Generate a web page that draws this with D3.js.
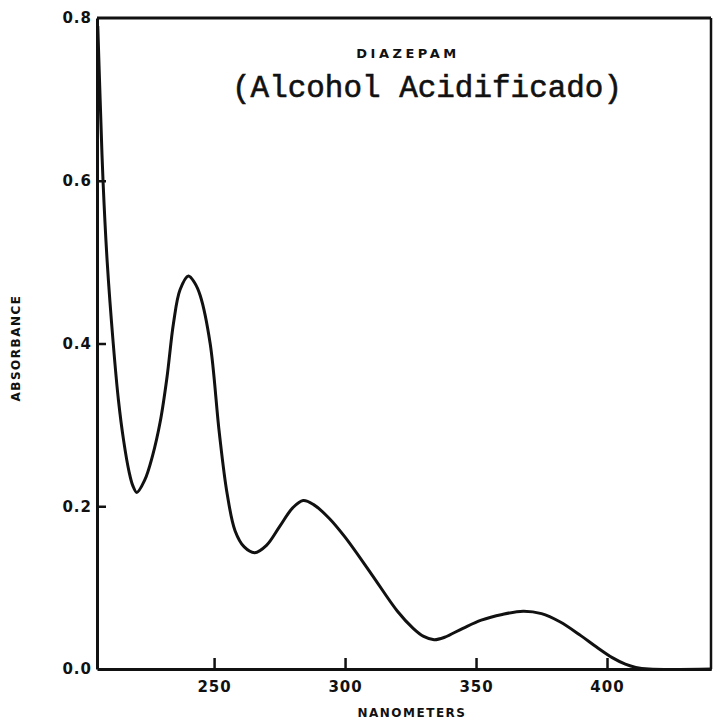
<!DOCTYPE html>
<html>
<head>
<meta charset="utf-8">
<script src="https://cdn.jsdelivr.net/npm/d3@7"></script>
<style>
  body { margin: 0; background: #fff; }
  .tick text { font-family: "DejaVu Sans", sans-serif; font-weight: bold; font-size: 15px; letter-spacing: 1px; fill: #111; }
</style>
</head>
<body>
<div id="chart"></div>
<script>
// spectrum (wavelength nm / absorbance)
var wavelength = [205.6, 206.5, 207.6, 209.2, 211.5, 213.5, 215.5, 217.5, 219, 220.5, 223.5, 226.5, 229.5, 232, 234.5, 237, 240.2, 242.5, 244.7, 248.5, 252, 255, 258, 261.5, 265.5, 270, 275, 280, 284, 288, 294, 300, 310, 320, 326, 330, 334, 338, 345, 352, 360, 368, 375, 382, 390, 396, 402, 407, 411, 416, 440];
var absorbance = [0.79, 0.70, 0.60, 0.50, 0.40, 0.33, 0.28, 0.243, 0.225, 0.217, 0.232, 0.262, 0.305, 0.358, 0.425, 0.466, 0.483, 0.475, 0.459, 0.40, 0.29, 0.215, 0.170, 0.150, 0.143, 0.152, 0.175, 0.198, 0.207, 0.202, 0.185, 0.162, 0.117, 0.071, 0.050, 0.040, 0.036, 0.039, 0.050, 0.060, 0.067, 0.071, 0.068, 0.058, 0.041, 0.027, 0.014, 0.006, 0.002, 0.0, 0.0];

var xTicks = [250, 300, 350, 400];
var yTicks = [0.0, 0.2, 0.4, 0.6, 0.8];

var svgWidth = 714;
var svgHeight = 722;

var margin = {
    top: 18,
    right: 3,
    bottom: 53,
    left: 97
};

var width = svgWidth - margin.left - margin.right;
var height = svgHeight - margin.top - margin.bottom;

var svg = d3.select("#chart")
    .append("svg")
    .attr("width", svgWidth)
    .attr("height", svgHeight);

var chartGroup = svg.append("g")
    .attr("transform", `translate(${margin.left}, ${margin.top})`);

var xScale = d3.scaleLinear()
    .domain([205.3, 439.7])
    .range([0, width]);

var yScale = d3.scaleLinear()
    .domain([0, 0.8])
    .range([height, 0]);

// axes, ticks pointing into the plot
var bottomAxis = d3.axisBottom(xScale)
    .tickValues(xTicks)
    .tickSize(-11)
    .tickSizeOuter(0)
    .tickPadding(12)
    .tickFormat(d3.format("d"));

var leftAxis = d3.axisLeft(yScale)
    .tickValues(yTicks)
    .tickSize(-9)
    .tickSizeOuter(0)
    .tickPadding(5)
    .tickFormat(d3.format(".1f"));

var xAxis = chartGroup.append("g")
    .attr("transform", `translate(0, ${height})`)
    .call(bottomAxis);

var yAxis = chartGroup.append("g")
    .call(leftAxis);

[xAxis, yAxis].forEach(function(ax) {
    ax.select(".domain").attr("stroke", "#111").attr("stroke-width", 3);
    ax.selectAll(".tick line").attr("stroke", "#111").attr("stroke-width", 2.5);
});
yAxis.selectAll(".tick").filter(d => d === 0 || d === 0.8).select("line").remove();

// top and right frame lines
chartGroup.append("line")
    .attr("x1", 0).attr("x2", width)
    .attr("y1", 0).attr("y2", 0)
    .attr("stroke", "#111").attr("stroke-width", 3);

chartGroup.append("line")
    .attr("x1", width).attr("x2", width)
    .attr("y1", 0).attr("y2", height)
    .attr("stroke", "#111").attr("stroke-width", 2.5);

// the curve
var points = wavelength.map((w, i) => [w, absorbance[i]]);

var line = d3.line()
    .x(d => xScale(d[0]))
    .y(d => yScale(d[1]))
    .curve(d3.curveCatmullRom.alpha(0.5));

chartGroup.append("path")
    .datum(points)
    .attr("d", line)
    .attr("fill", "none")
    .attr("stroke", "#111")
    .attr("stroke-width", 3)
    .attr("stroke-linejoin", "round");

// titles
svg.append("text")
    .attr("x", 408)
    .attr("y", 58)
    .attr("text-anchor", "middle")
    .style("font-family", "DejaVu Sans, sans-serif")
    .style("font-weight", "bold")
    .style("font-size", "13px")
    .style("letter-spacing", "3.5px")
    .style("fill", "#111")
    .text("DIAZEPAM");

svg.append("text")
    .attr("x", 232)
    .attr("y", 97)
    .attr("textLength", 390)
    .attr("lengthAdjust", "spacingAndGlyphs")
    .style("font-family", "Liberation Mono, monospace")
    .style("font-size", "32px")
    .style("fill", "#111")
    .style("stroke", "#111")
    .style("stroke-width", 0.6)
    .text("(Alcohol Acidificado)");

// axis labels
svg.append("text")
    .attr("x", 412)
    .attr("y", 717)
    .attr("text-anchor", "middle")
    .style("font-family", "DejaVu Sans, sans-serif")
    .style("font-weight", "bold")
    .style("font-size", "12px")
    .style("letter-spacing", "1.5px")
    .style("fill", "#111")
    .text("NANOMETERS");

svg.append("text")
    .attr("transform", "translate(20, 348) rotate(-90)")
    .attr("text-anchor", "middle")
    .style("font-family", "DejaVu Sans, sans-serif")
    .style("font-weight", "bold")
    .style("font-size", "12px")
    .style("letter-spacing", "1.5px")
    .style("fill", "#111")
    .text("ABSORBANCE");
</script>
</body>
</html>
